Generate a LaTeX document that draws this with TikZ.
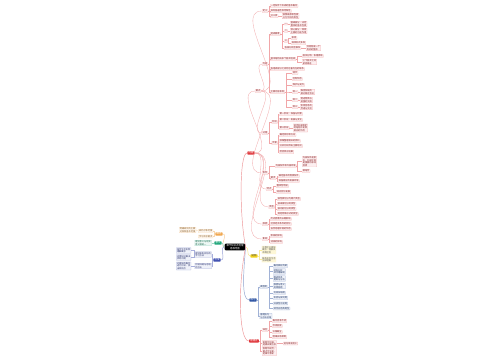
\documentclass[tikz,border=0pt]{standalone}
\usepackage{fontspec}
\newfontfamily\cjk{Noto Sans CJK SC}
\usetikzlibrary{calc}

\definecolor{mmred}{HTML}{E0393E}
\definecolor{mmyellow}{HTML}{F2D31B}
\definecolor{mmblue}{HTML}{2F55A4}
\definecolor{mmorange}{HTML}{F0A54A}
\definecolor{mmgreen}{HTML}{1FA67A}
\definecolor{mmindigo}{HTML}{3D4DB0}

\def\leaffont{\cjk\fontsize{2.2}{2.6}\selectfont}
\def\topicfont{\cjk\fontsize{2.4}{2.8}\selectfont}
\def\brk{1.5}

\tikzset{
  rootnode/.style={font=\topicfont, fill=black, text=white, align=center, inner xsep=2pt, inner ysep=0.9pt, rounded corners=1.2pt},
  topic/.style={font=\topicfont, fill=#1, text=white, align=center, inner xsep=1.3pt, inner ysep=0.6pt, rounded corners=0.8pt},
  leaf/.style={font=\leaffont, draw=#1!40, fill=#1!8, text=#1!60!black, line width=0.2pt, align=left, inner xsep=0.7pt, inner ysep=0.45pt, rounded corners=0.3pt, anchor=west},
  leaf/.default=mmred,
  link/.style={draw=#1!45, line width=0.3pt},
  mainlink/.style={draw=#1!55, line width=0.45pt},
}

\begin{document}
\begin{tikzpicture}[x=1pt,y=-1pt]
\useasboundingbox[fill=white] (0,0) rectangle (500,360);

% Root
\node[rootnode] (root) at (235,247) {章节知识点梳理\\思维导图};

% Left: orange
\node[topic=mmorange] (to) at (219,234) {概述};
\node[leaf=mmorange, anchor=east] (o1) at (213,231) {研究对象范围};
\node[leaf=mmorange, anchor=east] (o2) at (213,236.5) {学习目标要求};
\node[leaf=mmorange, anchor=east] (o1x) at (196,230) {明确研究的主要\\对象和基本范围};
\draw[mainlink=mmorange] (root.west) to[out=180,in=0] (to.east);
\foreach \n in {o1,o2} \draw[link=mmorange] (to.west) -- ++(-1,0) |- (\n.east);
\draw[link=mmorange] (o1.west) -- (o1x.east);

% Left: green
\node[topic=mmgreen] (tg) at (218,243) {意义};
\node[leaf=mmgreen, anchor=east] (g1) at (211.5,243) {理论意义与现实\\意义相统一};
\draw[mainlink=mmgreen] (root.west) to[out=180,in=0] (tg.east);
\draw[link=mmgreen] (tg.west) -- (g1.east);

% Left: indigo
\node[topic=mmindigo] (ti) at (217,260) {方法};
\node[leaf=mmindigo, anchor=east] (ib1) at (211.5,254.5) {理论联系实际的\\学习方法};
\node[leaf=mmindigo, anchor=east] (ib2) at (211.5,266) {比较归纳与总结\\的方法};
\node[leaf=mmindigo, anchor=east] (ib1a) at (191,250.5) {结合生活实例\\理解概念};
\node[leaf=mmindigo, anchor=east] (ib1b) at (191,257.5) {运用知识解决\\实际问题};
\node[leaf=mmindigo, anchor=east] (ib2a) at (191,266) {对相似的概念\\进行比较，找\\出异同点};
\draw[mainlink=mmindigo] (root.west) to[out=180,in=0] (ti.east);
\foreach \n in {ib1,ib2} \draw[link=mmindigo] (ti.west) -- ++(-1,0) |- (\n.east);
\foreach \n in {ib1a,ib1b} \draw[link=mmindigo] (ib1.west) -- ++(-0.8,0) |- (\n.east);
\draw[link=mmindigo] (ib2.west) -- (ib2a.east);

% Right: red main branch
\node[topic=mmred] (tr) at (251,153) {内容};
\draw[mainlink=mmred] (root.east) .. controls +(-6,-30) and +(-8,0) .. (tr.west);

\node[leaf, anchor=center] (ra) at (258,91) {要点};
\node[leaf, anchor=center] (rd) at (269,189) {特点};
\node[leaf, anchor=center] (re) at (271.5,207) {类型};
\node[leaf, anchor=center] (rf) at (265,224) {原因};
\node[leaf, anchor=center] (rg) at (265,239) {影响};
\foreach \n in {ra,rd,re,rf,rg} \draw[link=mmred] (tr.east) to[out=0,in=180] (\n.west);

\node[leaf, anchor=center] (ra1) at (265,11) {定义};
\node[leaf, anchor=center] (ra2) at (265,64) {内容};
\node[leaf, anchor=center] (ra3) at (265,133) {过程};
\node[leaf, anchor=center] (ra4) at (265,173) {条件};
\foreach \n in {ra1,ra2,ra3,ra4} \draw[link=mmred] (ra.east) to[out=0,in=180] (\n.west);

% definition
\foreach \y/\t [count=\i] in {6/{一定条件下形成的基本概念},11/{具有普遍性和特殊性},16/{分三类}} {
  \node[leaf] (ra1-\i) at (270,\y) {\t};
  \draw[link=mmred] (ra1.east) -- ++(\brk,0) |- (ra1-\i.west);
}
\node[leaf] (ra1-3x) at (282,16) {按照来源和性质\\分为不同的类型};
\draw[link=mmred] (ra1-3.east) -- (ra1-3x.west);

% content
\foreach \y/\t [count=\i] in {34/{组成要素},59/{基本结构由多个层次组成},69/{各组成部分之间存在着内在的联系},92/{主要功能表现}} {
  \node[leaf] (ra2-\i) at (270,\y) {\t};
  \draw[link=mmred] (ra2.east) -- ++(\brk,0) |- (ra2-\i.west);
}
\foreach \y/\t [count=\i] in {24/一,31/二,41/三,48/{各部分相互联系}} {
  \node[leaf] (ra2a-\i) at (284,\y) {\t};
  \draw[link=mmred] (ra2-1.east) -- ++(\brk,0) |- (ra2a-\i.west);
}
\node[leaf] (ra2a-1x) at (290,24) {基础部分，决定\\整体的基本性质};
\node[leaf] (ra2a-2x) at (290,31) {核心部分，体现\\主要的功能作用};
\node[leaf] (ra2a-3x) at (291,38) {表现};
\node[leaf] (ra2a-3y) at (291,43) {具体形式多样};
\node[leaf] (ra2a-4x) at (306,48) {共同构成一个\\有机的整体};
\draw[link=mmred] (ra2a-1.east) -- (ra2a-1x.west);
\draw[link=mmred] (ra2a-2.east) -- (ra2a-2x.west);
\foreach \n in {ra2a-3x,ra2a-3y} \draw[link=mmred] (ra2a-3.east) -- ++(0.8,0) |- (\n.west);
\draw[link=mmred] (ra2a-4.east) -- (ra2a-4x.west);
\foreach \y/\t [count=\i] in {56/{层次分明、条理清晰},62/{上下层次之间\\紧密相连}} {
  \node[leaf] (ra2b-\i) at (302,\y) {\t};
  \draw[link=mmred] (ra2-2.east) -- ++(\brk,0) |- (ra2b-\i.west);
}
\foreach \y/\t [count=\i] in {73/调节,79/{控制作用},85/{保护与支持},92/其一,100/其二,107/其三} {
  \node[leaf] (ra2d-\i) at (292,\y) {\t};
  \draw[link=mmred] (ra2-4.east) -- ++(\brk,0) |- (ra2d-\i.west);
}
\node[leaf] (ra2d-4x) at (300,92) {维持系统的\\相对稳定状态};
\node[leaf] (ra2d-5x) at (300,100) {促进物质与\\能量的交换};
\node[leaf] (ra2d-6x) at (300,107) {实现信息的\\传递与交流};
\foreach \i in {4,5,6} \draw[link=mmred] (ra2d-\i.east) -- (ra2d-\i x.west);

% process
\node[leaf, anchor=center] (ra3a) at (274.5,122) {阶段};
\node[leaf, anchor=center] (ra3b) at (274.5,143) {步骤};
\foreach \n in {ra3a,ra3b} \draw[link=mmred] (ra3.east) -- ++(\brk,0) |- (\n.west);
\foreach \y/\t [count=\i] in {114/{第一阶段：准备与积累},120/{第二阶段：发展与变化},128/{第三阶段}} {
  \node[leaf] (ra3a-\i) at (279,\y) {\t};
  \draw[link=mmred] (ra3a.east) -- ++(0.8,0) |- (ra3a-\i.west);
}
\node[leaf] (ra3a-3x) at (293,128) {逐步形成稳定\\的结构并发挥\\相应的作用};
\draw[link=mmred] (ra3a-3.east) -- (ra3a-3x.west);
\foreach \y/\t [count=\i] in {135/{确定目标和方向},141/{收集整理相关的资料},146/{分析比较得出主要结论},152/{检验修正结果}} {
  \node[leaf] (ra3b-\i) at (279,\y) {\t};
  \draw[link=mmred] (ra3b.east) -- ++(0.8,0) |- (ra3b-\i.west);
}

% conditions
\node[leaf] (ra4a) at (275,166) {内部条件和外部环境};
\node[leaf] (ra4b) at (270,178) {要求};
\foreach \n in {ra4a,ra4b} \draw[link=mmred] (ra4.east) -- ++(\brk,0) |- (\n.west);
\node[leaf] (ra4a-1) at (302,161.5) {内部条件是根\\本，外部环境\\是重要的影响\\因素};
\node[leaf] (ra4a-2) at (302,171) {相结合};
\foreach \n in {ra4a-1,ra4a-2} \draw[link=mmred] (ra4a.east) -- ++(0.8,0) |- (\n.west);
\foreach \y/\t [count=\i] in {176/{满足基本的物质条件},181/{具备相应的发展环境}} {
  \node[leaf] (ra4b-\i) at (278,\y) {\t};
  \draw[link=mmred] (ra4b.east) -- ++(0.8,0) |- (ra4b-\i.west);
}

% features, types, causes, effects
\foreach \y/\t [count=\i] in {186/{整体性明显},192/{动态变化发展}} {
  \node[leaf] (rd-\i) at (276,\y) {\t};
  \draw[link=mmred] (rd.east) -- ++(0.8,0) |- (rd-\i.west);
}
\foreach \y/\t [count=\i] in {199/{按性质划分为两大类型},204/{按来源划分的类型},209/{按功能划分的类型},214/{其他特殊形式的类型}} {
  \node[leaf] (re-\i) at (277,\y) {\t};
  \draw[link=mmred] (re.east) -- ++(0.8,0) |- (re-\i.west);
}
\foreach \y/\t [count=\i] in {219/{历史因素的长期影响},224/{社会经济条件的变化},229/{自然地理环境的作用}} {
  \node[leaf] (rf-\i) at (270,\y) {\t};
  \draw[link=mmred] (rf.east) -- ++(0.8,0) |- (rf-\i.west);
}
\foreach \y/\t [count=\i] in {236/{积极的影响},242/{消极的影响}} {
  \node[leaf] (rg-\i) at (270,\y) {\t};
  \draw[link=mmred] (rg.east) -- ++(0.8,0) |- (rg-\i.west);
}

% Right: yellow
\node[topic=mmyellow, text=black!75] (ty) at (254,256) {延伸};
\node[leaf=mmyellow, draw=none, fill=mmyellow!18, text=black!65] (ya) at (261.5,250) {注意区分相似\\概念，理解其\\本质区别};
\node[leaf=mmyellow, draw=none, fill=mmyellow!18, text=black!65] (yb) at (261.5,259.5) {联系实际生活\\加深理解};
\draw[mainlink=mmyellow] (root.east) to[out=0,in=180] (ty.west);
\foreach \n in {ya,yb} \draw[link=mmyellow] (ty.east) -- ++(0.8,0) |- (\n.west);

% Right: blue
\node[topic=mmblue] (tb) at (253,300) {练习};
\draw[mainlink=mmblue] (root.east) .. controls +(-2,25) and +(-8,0) .. (tb.west);
\node[leaf=mmblue] (bl2) at (259.5,287) {典型题};
\node[leaf=mmblue] (bl3) at (259.5,316) {答题技巧\\与方法总结};
\foreach \n in {bl2,bl3} \draw[link=mmblue] (tb.east) -- ++(0.8,0) |- (\n.west);
\foreach \y/\t [count=\i] in {266/{概念辨析判断},271.5/{材料分析\\综合理解题},278.5/{图表信息\\提取与分析},286/{原因与意义\\的简答题},293/{比较归纳题},298/{实验与探究题},303.5/{开放性论述题},308.5/{综合应用类题型}} {
  \node[leaf=mmblue] (bl2-\i) at (273,\y) {\t};
  \draw[link=mmblue] (bl2.east) -- ++(1,0) |- (bl2-\i.west);
}

% Right: bottom red
\node[topic=mmred] (tr2) at (254,341) {易错点};
\draw[mainlink=mmred] (root.east) .. controls +(-8,40) and +(-10,0) .. (tr2.west);
\node[leaf] (rb2) at (262,330) {误区};
\node[leaf] (rb3) at (262,343.5) {审题不仔细，\\遗漏关键信息};
\node[leaf] (rb4) at (262,351.5) {答题不规范，\\要点不全面，\\逻辑不清晰};
\foreach \n in {rb2,rb3,rb4} \draw[link=mmred] (tr2.east) -- ++(1,0) |- (\n.west);
\foreach \y/\t [count=\i] in {321/{概念混淆不清},326/{忽视前提},332/{以偏概全},337/{因果关系颠倒}} {
  \node[leaf] (rb2-\i) at (272,\y) {\t};
  \draw[link=mmred] (rb2.east) -- ++(1,0) |- (rb2-\i.west);
}
\node[leaf] (rb3x) at (283,343.5) {逐句审读题干};
\draw[link=mmred] (rb3.east) -- (rb3x.west);

\end{tikzpicture}
\end{document}
